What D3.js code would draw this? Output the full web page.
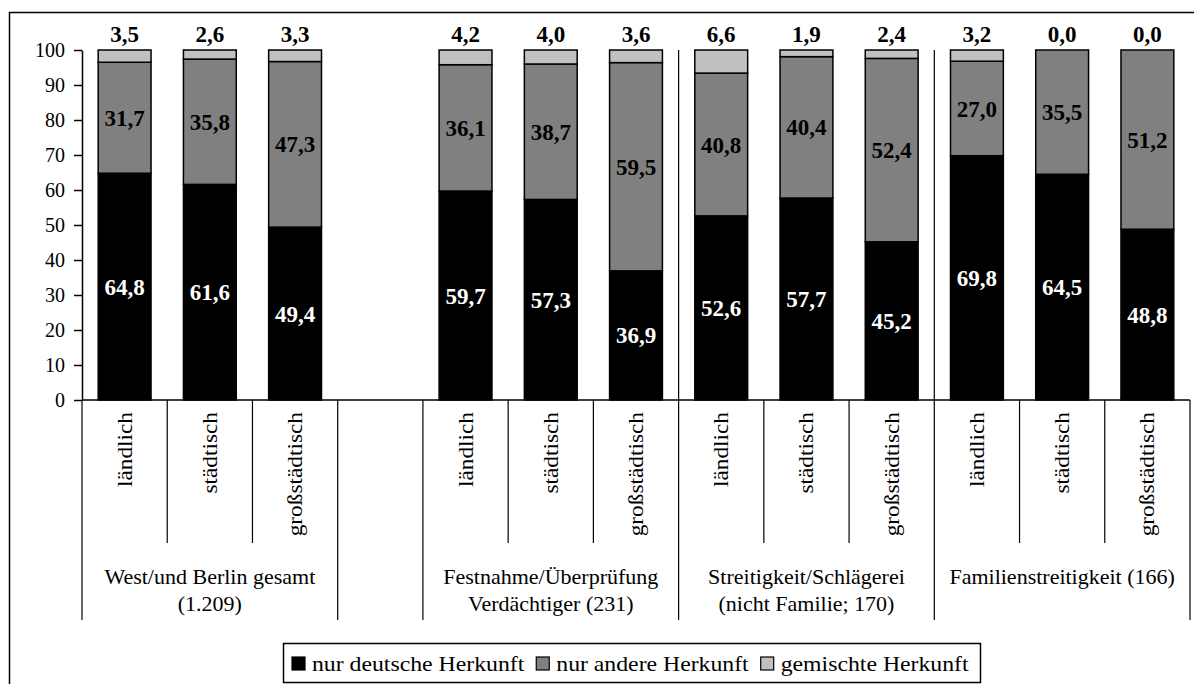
<!DOCTYPE html>
<html><head><meta charset="utf-8">
<script src="https://cdn.jsdelivr.net/npm/d3@7"></script>
<style>
html,body{margin:0;padding:0;background:#fff;}
svg text{font-family:"Liberation Serif","Tinos","Noto Serif","DejaVu Serif","Times New Roman","Times",serif !important;}
</style></head>
<body>
<svg id="chart" width="1194" height="684"></svg>
<script>
// ---- data ----
const groups = [
  ["West/und Berlin gesamt", "(1.209)"],
  [""],
  ["Festnahme/Überprüfung", "Verdächtiger (231)"],
  ["Streitigkeit/Schlägerei", "(nicht Familie; 170)"],
  ["Familienstreitigkeit (166)"]
];
const groupOfSlot = [0,0,0,1,2,2,2,3,3,3,4,4,4];
const subcategories = ["ländlich","städtisch","großstädtisch","","ländlich","städtisch","großstädtisch","ländlich","städtisch","großstädtisch","ländlich","städtisch","großstädtisch"];
const nurDeutsch = [64.8, 61.6, 49.4, null, 59.7, 57.3, 36.9, 52.6, 57.7, 45.2, 69.8, 64.5, 48.8];
const nurAndere  = [31.7, 35.8, 47.3, null, 36.1, 38.7, 59.5, 40.8, 40.4, 52.4, 27.0, 35.5, 51.2];
const gemischt   = [3.5, 2.6, 3.3, null, 4.2, 4.0, 3.6, 6.6, 1.9, 2.4, 3.2, 0.0, 0.0];
const seriesNames = ["nur deutsche Herkunft","nur andere Herkunft","gemischte Herkunft"];
const seriesColors = ["#000000","#808080","#c0c0c0"];
const yTicks = [0,10,20,30,40,50,60,70,80,90,100];

// ---- layout ----
const svg = d3.select("#chart");
const pLeft = 82, pRight = 1190, pTop = 50, pBottom = 400;
const slots = d3.range(subcategories.length);
const x = d3.scaleBand().domain(slots).range([pLeft, pRight]).paddingInner(0.38).paddingOuter(0.19);
const y = d3.scaleLinear().domain([0,100]).range([pBottom, pTop]);
const step = x.step();
const boundary = i => pLeft + i*step;
const fmt = v => d3.format(".1f")(v).replace(".", ",");

// outer frame
svg.append("rect").attr("x",9.5).attr("y",12.5).attr("width",1210).attr("height",700)
  .attr("fill","none").attr("stroke","#000").attr("stroke-width",1.5);

// stacked bars
const rows = slots.filter(i => nurDeutsch[i] !== null).map(i => ({i, d: nurDeutsch[i], a: nurAndere[i], g: gemischt[i]}));
const stacked = d3.stack().keys(["d","a","g"])(rows);
const gBars = svg.append("g");
stacked.forEach((layer, k) => {
  gBars.selectAll(null).data(layer).join("rect")
    .attr("x", p => x(p.data.i))
    .attr("width", x.bandwidth())
    .attr("y", p => y(p[1]))
    .attr("height", p => y(p[0]) - y(p[1]))
    .attr("fill", seriesColors[k])
    .attr("stroke", "#000").attr("stroke-width", 1.5);
});

// value labels
const labG = svg.append("g").attr("font-weight","bold").attr("font-size",23).attr("text-anchor","middle");
stacked[0].forEach(p => {
  labG.append("text").attr("x", x(p.data.i)+x.bandwidth()/2).attr("y", y((p[0]+p[1])/2)).attr("dy","0.35em")
    .attr("fill","#fff").text(fmt(p.data.d));
});
stacked[1].forEach(p => {
  labG.append("text").attr("x", x(p.data.i)+x.bandwidth()/2).attr("y", y((p[0]+p[1])/2)).attr("dy","0.35em")
    .attr("fill","#000").text(fmt(p.data.a));
});
stacked[2].forEach(p => {
  labG.append("text").attr("x", x(p.data.i)+x.bandwidth()/2).attr("y", y(100)-8)
    .attr("fill","#000").text(fmt(p.data.g));
});

// y axis
const yAxis = svg.append("g").attr("transform",`translate(${pLeft},0)`)
  .call(d3.axisLeft(y).tickValues(yTicks).tickSize(8).tickSizeOuter(0).tickPadding(9).tickFormat(d3.format("d")));
yAxis.select(".domain").attr("stroke","#000").attr("stroke-width",1.5);
yAxis.selectAll(".tick line").attr("stroke","#000").attr("stroke-width",1.5);
yAxis.selectAll(".tick text").attr("font-size",20).attr("fill","#000");

// x axis baseline
svg.append("line").attr("x1",pLeft).attr("x2",pRight).attr("y1",pBottom).attr("y2",pBottom)
  .attr("stroke","#000").attr("stroke-width",1.5);

// dividers inside plot area between groups
[7,10].forEach(b => {
  svg.append("line").attr("x1",boundary(b)).attr("x2",boundary(b)).attr("y1",y(100)).attr("y2",pBottom)
    .attr("stroke","#000").attr("stroke-width",1.2);
});

// category separators
const groupStarts = [0];
for (let i=1;i<slots.length;i++) if (groupOfSlot[i]!==groupOfSlot[i-1]) groupStarts.push(i);
groupStarts.push(slots.length);
d3.range(slots.length+1).forEach(b => {
  const isGroup = groupStarts.includes(b);
  svg.append("line").attr("x1",boundary(b)).attr("x2",boundary(b)).attr("y1",pBottom).attr("y2", isGroup ? 620 : 543)
    .attr("stroke","#000").attr("stroke-width",1.2);
});

// subcategory labels (rotated)
slots.forEach(i => {
  if (!subcategories[i]) return;
  const cx = x(i) + x.bandwidth()/2 + 7;
  svg.append("text").attr("transform",`translate(${cx},412) rotate(-90) scale(1.06,1)`)
    .attr("text-anchor","end").attr("font-size",22).attr("fill","#000").text(subcategories[i]);
});

// group labels
for (let gi=0; gi<groups.length; gi++) {
  const a = groupStarts[gi], b = groupStarts[gi+1];
  const cx = (boundary(a)+boundary(b))/2;
  groups[gi].forEach((line, li) => {
    if (!line) return;
    svg.append("text").attr("transform",`translate(${cx},${584+li*27})`)
      .attr("text-anchor","middle").attr("font-size",22).attr("fill","#000").text(line);
  });
}

// legend
const lg = svg.append("g");
lg.append("rect").attr("x",283.5).attr("y",643.5).attr("width",697).attr("height",39)
  .attr("fill","#fff").attr("stroke","#000").attr("stroke-width",1.5);
let lx = 292;
seriesNames.forEach((name, k) => {
  lg.append("rect").attr("x",lx).attr("y",657).attr("width",13).attr("height",13)
    .attr("fill",seriesColors[k]).attr("stroke","#000").attr("stroke-width",1.2);
  const t = lg.append("text").attr("transform",`translate(${lx+20},671) scale(1.08,1)`)
    .attr("font-size",22).attr("fill","#000").text(name);
  const w = t.node().getComputedTextLength()*1.08;
  lx += 20 + w + 12;
});
</script>
</body></html>
